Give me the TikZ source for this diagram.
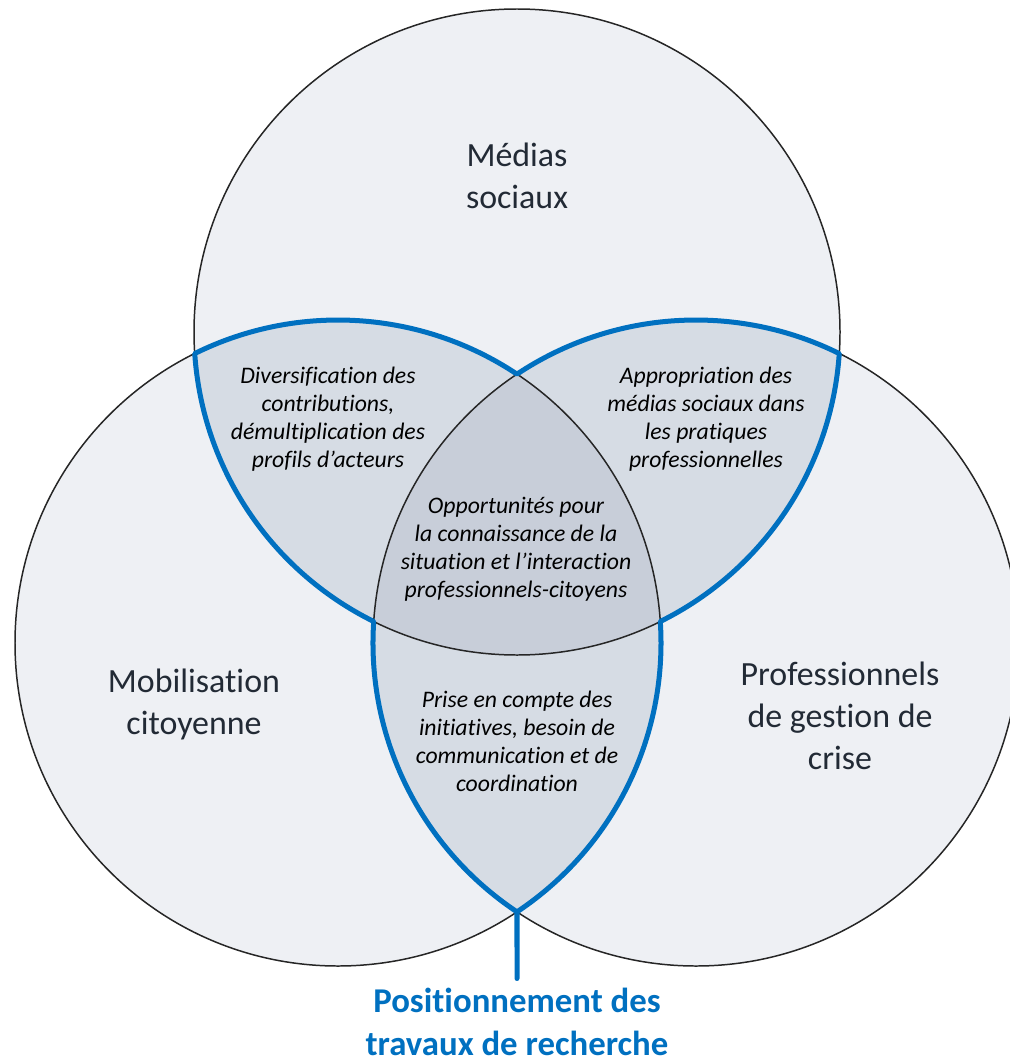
\documentclass[tikz,border=0pt]{standalone}
\usepackage{fontspec}
\setmainfont[Ligatures=NoCommon]{Carlito}
\definecolor{circfill}{HTML}{EEF0F4}
\definecolor{pairfill}{HTML}{D6DCE4}
\definecolor{corefill}{HTML}{C8CED9}
\definecolor{resblue}{HTML}{0070C0}
\definecolor{labtext}{HTML}{222A35}

\begin{document}
\begin{tikzpicture}[x=0.02cm,y=-0.02cm,
  ring/.style={draw=black!85,line width=0.85pt},
  big/.style={align=center,text=labtext,font=\fontsize{19.3}{23.9}\selectfont},
  small/.style={align=center,text=black,font=\fontsize{13.5}{15.9}\selectfont\itshape},
  blueline/.style={draw=resblue,line width=2.85pt,line join=round,line cap=round}]

\useasboundingbox (0,0) rectangle (1009,1061);

\coordinate (T) at (517,332);
\coordinate (L) at (338,643);
\coordinate (R) at (696,643);
\def\rad{323}

\fill[circfill] (T) circle (\rad);
\fill[circfill] (L) circle (\rad);
\fill[circfill] (R) circle (\rad);
\begin{scope}
  \clip (T) circle (\rad);
  \fill[pairfill] (L) circle (\rad);
  \fill[pairfill] (R) circle (\rad);
\end{scope}
\begin{scope}
  \clip (L) circle (\rad);
  \fill[pairfill] (R) circle (\rad);
\end{scope}
\begin{scope}
  \clip (T) circle (\rad);
  \clip (L) circle (\rad);
  \fill[corefill] (R) circle (\rad);
\end{scope}

\draw[ring] (T) circle (\rad);
\draw[ring] (L) circle (\rad);
\draw[ring] (R) circle (\rad);

\draw[blueline] (L) ++(-116.34:\rad) coordinate (tlout)
  arc[start angle=-116.34,end angle=-56.35,radius=\rad] coordinate (lrin)
  arc[start angle=-123.65,end angle=-63.66,radius=\rad] coordinate (trout)
  arc[start angle=3.82,end angle=63.66,radius=\rad] coordinate (tlin)
  arc[start angle=-3.82,end angle=56.35,radius=\rad] coordinate (lrout)
  arc[start angle=123.65,end angle=183.82,radius=\rad] coordinate (trin)
  arc[start angle=116.34,end angle=176.18,radius=\rad] -- cycle;

\node[big] (medias) at (517,176) {Médias\\sociaux};
\node[big] (mobil) at (194,704) {Mobilisation\\citoyenne};
\node[big] (pros) at (840,716) {Professionnels\\de gestion de\\crise};

\node[small] (divers) at (328,419) {Diversification des\\contributions,\\démultiplication des\\profils d’acteurs};
\node[small] (approp) at (706,419) {Appropriation des\\médias sociaux dans\\les pratiques\\professionnelles};
\node[small] (opport) at (516,549) {Opportunités pour\\la connaissance de la\\situation et l’interaction\\professionnels-citoyens};
\node[small] (prise) at (517,741) {Prise en compte des\\initiatives, besoin de\\communication et de\\coordination};

\node[align=center,text=resblue,inner sep=0pt,outer ysep=5.5pt,
  font=\fontsize{19.8}{24.5}\selectfont\bfseries] (travaux) at (517,1022)
  {Positionnement des\\travaux de recherche};

\draw[blueline] (lrout) -- (travaux.north);

\end{tikzpicture}
\end{document}
